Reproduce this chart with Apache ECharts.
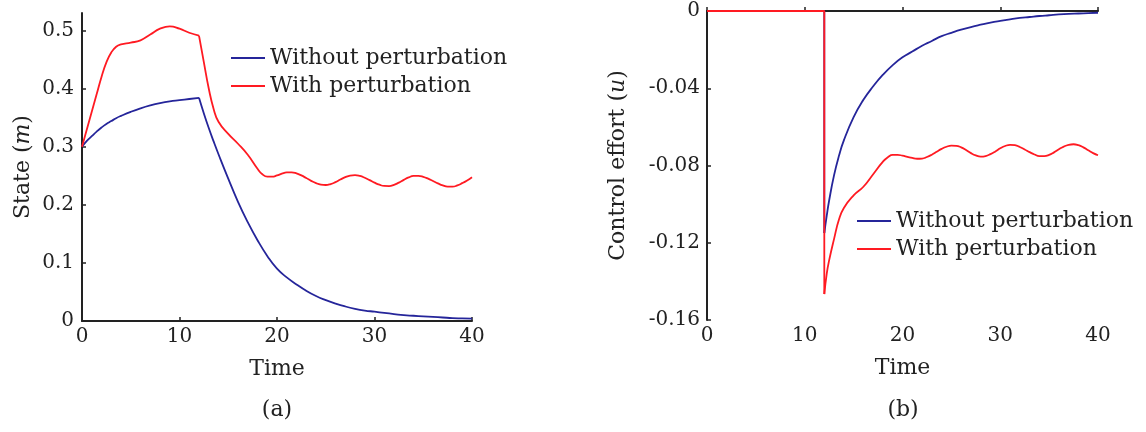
<!DOCTYPE html>
<html>
<head>
<meta charset="utf-8">
<script src="https://cdn.jsdelivr.net/npm/echarts@6/dist/echarts.min.js"></script>
<style>
    html, body {margin: 0; padding: 0; background: #fff;}
    #chart {width: 1146px; height: 432px;}
</style>
</head>
<body>
<div id="chart"></div>
<script>
// (a) state, before the switch at t = 12
const tRise = [0, 0.5, 1, 1.5, 2, 2.5, 3, 3.5, 4, 5, 6, 7, 8, 9, 10, 11, 12];
const stateBlueRise = [0.3, 0.31, 0.318, 0.326, 0.333, 0.339, 0.344, 0.349, 0.353, 0.36, 0.366, 0.371, 0.375, 0.378, 0.38, 0.382, 0.384];
const stateRedRise = [0.3, 0.33, 0.36, 0.39, 0.42, 0.445, 0.462, 0.472, 0.476, 0.479, 0.483, 0.493, 0.503, 0.507, 0.503, 0.496, 0.491];

// (a) state, after t = 12 (blue is smooth, red wiggles so it is read finer)
const tDecayBlue = [12, 12.5, 13, 13.5, 14, 15, 16, 17, 18, 19, 20, 21, 22, 23, 24, 25, 26, 27, 28, 29, 30,
    31, 32, 33, 34, 35, 36, 37, 38, 39, 40];
const stateBlueDecay = [0.384, 0.357, 0.332, 0.309, 0.287, 0.245, 0.205, 0.17, 0.139, 0.112, 0.09, 0.075, 0.063,
    0.052, 0.043, 0.036, 0.03, 0.025, 0.021, 0.018, 0.016, 0.014, 0.012, 0.01, 0.009, 0.008, 0.007, 0.006, 0.005,
    0.0045, 0.004];
const tDecayRed = [12, 12.5, 13, 13.5, 14, 15, 16, 17, 18, 18.5,
    19, 19.5, 20, 20.5, 21, 21.5, 22, 22.5, 23, 23.5,
    24, 24.5, 25, 25.5, 26, 26.5, 27, 27.5, 28, 28.5,
    29, 29.5, 30, 30.5, 31, 31.5, 32, 32.5, 33, 33.5,
    34, 34.5, 35, 35.5, 36, 36.5, 37, 37.5, 38, 38.5,
    39, 39.5, 40];
const stateRedDecay = [0.491, 0.445, 0.4, 0.365, 0.343, 0.322, 0.305, 0.286, 0.262, 0.2525,
    0.2483, 0.2484, 0.2505, 0.2535, 0.2556, 0.2558, 0.254, 0.2505, 0.246, 0.2412,
    0.2372, 0.2347, 0.234, 0.2356, 0.239, 0.2434, 0.2475, 0.2503, 0.251, 0.2496,
    0.2465, 0.2424, 0.2381, 0.2345, 0.2324, 0.2322, 0.2343, 0.2382, 0.2429, 0.247,
    0.2496, 0.2498, 0.2482, 0.245, 0.2409, 0.2368, 0.2333, 0.2313, 0.2312, 0.2333,
    0.2372, 0.2419, 0.2475];

// (b) control effort: zero until the jump at t = 12
const tStep = [0, 12, 12];
const ctrlBlueStep = [0, 0, -0.115];
const ctrlRedStep = [0, 0, -0.1466];

const tCtrlBlue = [12, 12.25, 12.5, 13, 13.5, 14, 15, 16, 17, 18, 19, 20, 21, 22, 23, 24, 25, 26, 27, 28, 29, 30,
    31, 32, 33, 34, 35, 36, 37, 38, 39, 40];
const ctrlBlue = [-0.115, -0.106, -0.098, -0.085, -0.075, -0.067, -0.055, -0.046, -0.039, -0.033, -0.028, -0.024,
    -0.021, -0.018, -0.0155, -0.013, -0.0113, -0.0097, -0.0083, -0.0071, -0.006, -0.0051, -0.0043, -0.0036,
    -0.0031, -0.0026, -0.0022, -0.0018, -0.0015, -0.0013, -0.0011, -0.0009];
const tCtrlRed = [12, 12.25, 12.5, 13, 13.5, 14, 15, 16, 17, 18, 18.5,
    19, 19.5, 20, 20.5, 21, 21.5, 22, 22.5, 23, 23.5,
    24, 24.5, 25, 25.5, 26, 26.5, 27, 27.5, 28, 28.5,
    29, 29.5, 30, 30.5, 31, 31.5, 32, 32.5, 33, 33.5,
    34, 34.5, 35, 35.5, 36, 36.5, 37, 37.5, 38, 38.5,
    39, 39.5, 40];
const ctrlRed = [-0.1466, -0.136, -0.129, -0.118, -0.108, -0.102, -0.0955, -0.091, -0.0845, -0.078, -0.0757,
    -0.0745, -0.0745, -0.0749, -0.0755, -0.0761, -0.0765, -0.0764, -0.0756, -0.0744, -0.0729,
    -0.0714, -0.0703, -0.0697, -0.0698, -0.0706, -0.072, -0.0736, -0.0748, -0.0754, -0.0751,
    -0.0741, -0.0727, -0.0711, -0.0699, -0.0693, -0.0695, -0.0704, -0.0717, -0.0731, -0.0743,
    -0.0751, -0.0751, -0.0745, -0.0732, -0.0716, -0.0702, -0.0693, -0.069, -0.0695, -0.0706,
    -0.0721, -0.0736, -0.0747];

const stateTicks = [0, 0.1, 0.2, 0.3, 0.4, 0.5];
const seriesNames = ['Without perturbation', 'With perturbation'];

const BLUE = '#25259a';
const RED = '#ff1a22';
const INK = '#222';
const FONT = 'DejaVu Serif';

const zip = (xs, ys) => xs.map((x, i) => [x, ys[i]]);

function lineSeries(name, color, idx, xs, ys, smooth) {
    return {
        name: name,
        type: 'line',
        xAxisIndex: idx,
        yAxisIndex: idx,
        data: zip(xs, ys),
        symbol: 'none',
        smooth: smooth ? 0.5 : false,
        animation: false,
        itemStyle: {color: color},
        lineStyle: {color: color, width: 1.8}
    };
}

const axisLine = {show: true, lineStyle: {color: INK, width: 2}};
const axisTick = {show: true, inside: true, length: 4, lineStyle: {color: INK, width: 1.5}};
const tickLabel = {color: INK, fontFamily: FONT, fontSize: 20};
const nameStyle = {
    color: INK, fontFamily: FONT, fontSize: 22,
    rich: {i: {fontFamily: FONT, fontSize: 22, fontStyle: 'italic', color: INK}}
};

function xAxis(idx) {
    return {
        type: 'value', gridIndex: idx, min: 0, max: 40, interval: 10,
        name: 'Time', nameLocation: 'middle', nameGap: 37, nameTextStyle: nameStyle,
        axisLine: axisLine, axisTick: axisTick, splitLine: {show: false},
        axisLabel: Object.assign({margin: 6}, tickLabel)
    };
}

function legend(left, top) {
    return {
        data: seriesNames, left: left, top: top, orient: 'vertical',
        icon: 'rect', itemWidth: 34, itemHeight: 2, itemGap: 0,
        textStyle: {color: INK, fontFamily: FONT, fontSize: 22, lineHeight: 28}
    };
}

const option = {
    animation: false,
    grid: [
        {left: 82, top: 13, width: 390, height: 308},
        {left: 707, top: 11, width: 391, height: 309}
    ],
    xAxis: [xAxis(0), xAxis(1)],
    yAxis: [
        {
            type: 'value', gridIndex: 0, min: 0, max: 0.53,
            name: 'State ({i|m})', nameLocation: 'middle', nameGap: 48, nameTextStyle: nameStyle,
            axisLine: axisLine, splitLine: {show: false},
            axisTick: Object.assign({customValues: stateTicks}, axisTick),
            axisLabel: Object.assign({margin: 8, customValues: stateTicks}, tickLabel)
        },
        {
            type: 'value', gridIndex: 1, min: -0.16, max: 0, interval: 0.04,
            name: 'Control effort ({i|u})', nameLocation: 'middle', nameGap: 78, nameTextStyle: nameStyle,
            axisLine: axisLine, axisTick: axisTick, splitLine: {show: false},
            axisLabel: Object.assign({margin: 7}, tickLabel)
        }
    ],
    legend: [legend(226, 39), legend(852, 202)],
    series: [
        lineSeries(seriesNames[0], BLUE, 0, tRise, stateBlueRise, true),
        lineSeries(seriesNames[0], BLUE, 0, tDecayBlue, stateBlueDecay, true),
        lineSeries(seriesNames[1], RED, 0, tRise, stateRedRise, true),
        lineSeries(seriesNames[1], RED, 0, tDecayRed, stateRedDecay, true),
        lineSeries(seriesNames[0], BLUE, 1, tStep, ctrlBlueStep, false),
        lineSeries(seriesNames[0], BLUE, 1, tCtrlBlue, ctrlBlue, true),
        lineSeries(seriesNames[1], RED, 1, tStep, ctrlRedStep, false),
        lineSeries(seriesNames[1], RED, 1, tCtrlRed, ctrlRed, true)
    ],
    // sub-figure captions
    graphic: [
        {type: 'text', x: 277, y: 410, style: {text: '(a)', fill: INK, fontFamily: FONT, fontSize: 22, textAlign: 'center', textVerticalAlign: 'middle'}},
        {type: 'text', x: 903, y: 410, style: {text: '(b)', fill: INK, fontFamily: FONT, fontSize: 22, textAlign: 'center', textVerticalAlign: 'middle'}}
    ]
};

const myChart = echarts.init(document.getElementById('chart'));
myChart.setOption(option);
</script>
</body>
</html>
